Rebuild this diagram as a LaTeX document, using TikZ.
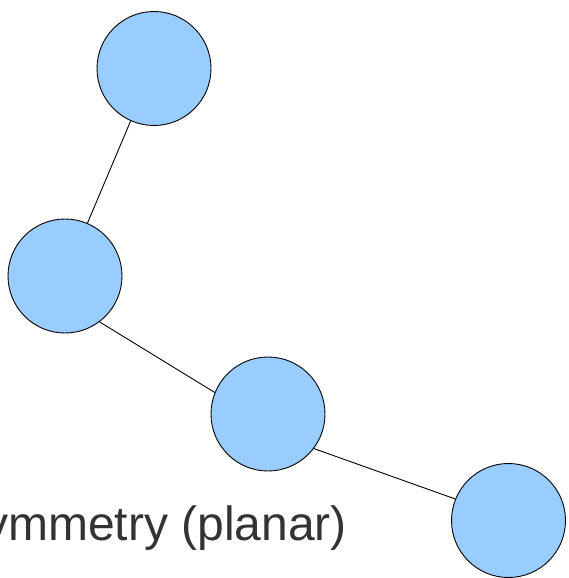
\documentclass[tikz,border=0pt]{standalone}
\usepackage{fontspec}
\setmainfont{Liberation Sans}
\definecolor{nodeblue}{HTML}{99CCFF}
\definecolor{textgray}{HTML}{333333}
\begin{document}
\begin{tikzpicture}[x=1pt,y=-1pt,
  vertex/.style={circle,draw=black,fill=nodeblue,line width=0.9pt,minimum size=114pt,inner sep=0pt},
  edge/.style={draw=black,line width=0.9pt}]
\useasboundingbox (0,0) rectangle (568,578);
\node[vertex] (a) at (154,68.5) {};
\node[vertex] (b) at (65,276) {};
\node[vertex] (c) at (268,414) {};
\node[vertex] (d) at (508.5,520.5) {};
\draw[edge] (a.-114) -- (b.67);
\draw[edge] (b.-53) -- (c.158);
\draw[edge] (c.-37) -- (d.158);
\node[anchor=base east,inner sep=0pt,text=textgray,font=\fontsize{48}{56}\selectfont] (t) at (347,540) {ymmetry (planar)};
\end{tikzpicture}
\end{document}
